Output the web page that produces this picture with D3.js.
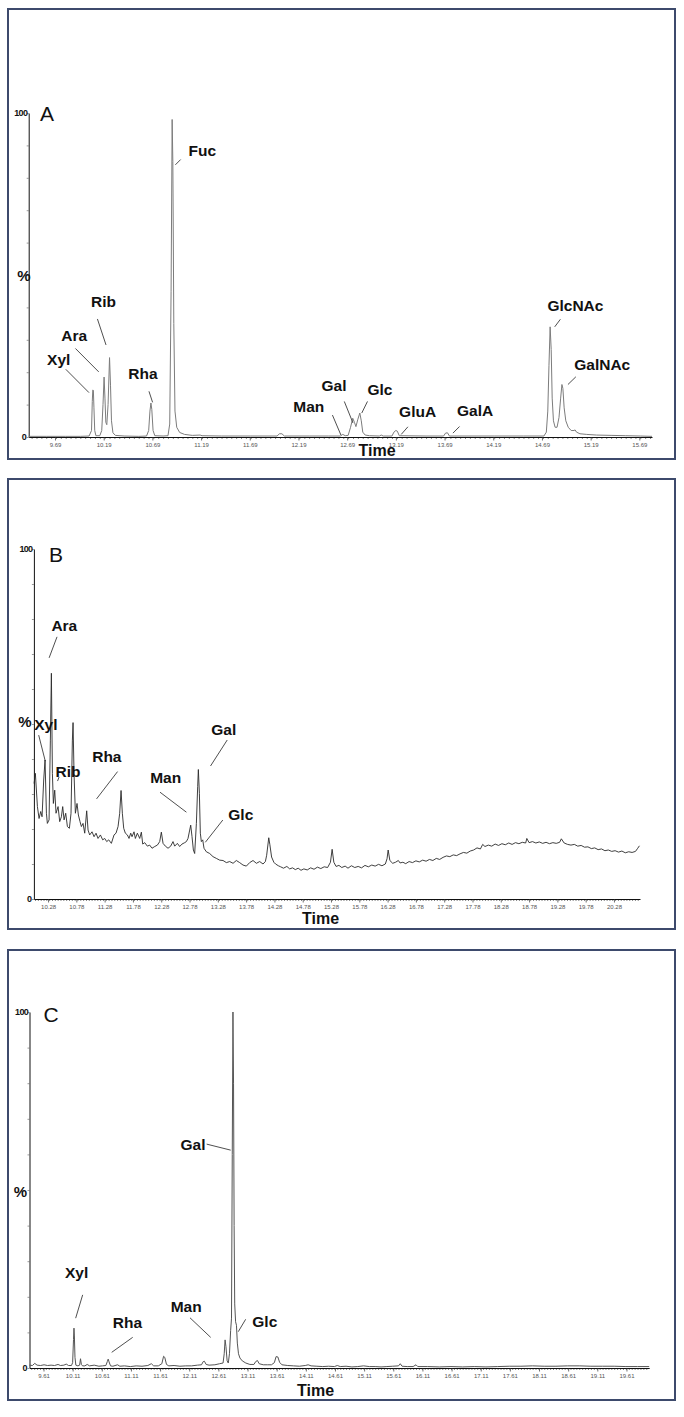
<!DOCTYPE html>
<html><head><meta charset="utf-8">
<script src="https://cdn.jsdelivr.net/npm/d3@7"></script>
<style>
body{margin:0;background:#fff}
svg{display:block}
text{font-family:"Liberation Sans",Arial,Helvetica,sans-serif}
</style>
</head><body>
<svg id="chart" width="684" height="1417"></svg>
<script>
// ---------------- DATA ----------------
// Panel A chromatogram: [time (min), relative intensity %]
const traceA = [
[9.42,0.2],[9.6,0.2],[9.8,0.2],[9.95,0.2],[10.04,0.3],[10.065,2],[10.073,11],[10.078,14.5],[10.084,14.4],[10.09,9],[10.098,2],[10.11,0.4],
[10.15,0.4],[10.17,2],[10.183,10],[10.194,18.5],[10.203,12],[10.212,4.5],[10.222,3.8],[10.235,10],[10.25,24.5],[10.26,16],[10.27,5],[10.285,1.3],[10.31,0.5],
[10.4,0.3],[10.55,0.2],[10.63,0.3],[10.652,2],[10.665,8],[10.675,10.5],[10.684,8.5],[10.697,2],[10.715,0.4],[10.8,0.3],[10.85,0.4],
[10.868,4],[10.882,45],[10.893,98],[10.9,85],[10.91,35],[10.922,8],[10.94,3],[10.97,1.4],[11.02,0.8],[11.1,0.5],[11.18,0.6],[11.2,0.4],
[11.4,0.3],[11.7,0.3],[11.97,0.3],[11.995,1.0],[12.02,1.0],[12.045,0.3],[12.3,0.3],[12.5,0.3],[12.62,0.3],[12.645,0.8],[12.67,0.4],
[12.7,0.5],[12.725,3],[12.747,5.8],[12.765,4.5],[12.78,3.2],[12.8,5.5],[12.82,7.4],[12.835,5],[12.85,1.5],[12.875,0.6],[12.92,0.4],
[13.02,0.3],[13.04,0.6],[13.06,0.3],[13.15,0.3],[13.17,1.5],[13.19,2.0],[13.205,1.8],[13.225,0.4],[13.5,0.3],[13.68,0.3],[13.7,1.2],[13.72,1.3],[13.74,0.3],
[14.2,0.3],[14.5,0.3],[14.71,0.3],[14.735,1.5],[14.75,8],[14.762,22],[14.774,34],[14.785,27],[14.795,12],[14.808,5],[14.825,3],[14.845,3],
[14.865,6],[14.882,12],[14.895,16.2],[14.905,15],[14.918,9],[14.935,5],[14.96,3],[14.99,2],[15.02,2.0],[15.03,2.2],[15.045,1.5],[15.08,1.0],
[15.15,0.8],[15.25,0.6],[15.4,0.5],[15.55,0.4],[15.7,0.3],[15.82,0.2]
];
const tickLabelsA = ["9.69","10.19","10.69","11.19","11.69","12.19","12.69","13.19","13.69","14.19","14.69","15.19","15.69"];
const peakNamesA  = ["Xyl","Ara","Rib","Rha","Fuc","Man","Gal","Glc","GluA","GalA","GlcNAc","GalNAc"];
const peakTimesA  = [10.039,10.139,10.214,10.692,10.926,12.626,12.75,12.84,13.245,13.776,14.821,14.957];
const peakValuesA = [13.7,20.1,28.4,10.7,84,0.6,4.3,7.4,0.8,1.2,34,16.2];

// Panel B chromatogram
const traceB = [
[10.033,33.0],[10.056,35.9],[10.092,26.4],[10.121,23.0],[10.150,25.0],[10.174,23.5],[10.203,34.0],[10.227,39.7],[10.251,24.5],[10.268,21.6],
[10.298,22.6],[10.321,45.4],[10.339,64.5],[10.357,35.9],[10.374,27.3],[10.398,31.1],[10.421,24.5],[10.457,26.4],[10.486,22.1],[10.516,23.5],
[10.539,26.4],[10.563,22.6],[10.592,24.5],[10.622,20.7],[10.657,20.2],[10.686,24.5],[10.710,45.4],[10.722,50.4],[10.739,35.9],[10.763,24.5],
[10.792,27.3],[10.816,24.0],[10.845,22.1],[10.869,20.7],[10.898,21.6],[10.928,18.8],[10.963,25.2],[10.987,19.7],[11.016,18.3],[11.057,19.2],
[11.093,17.8],[11.128,18.8],[11.163,17.3],[11.205,18.3],[11.246,16.9],[11.281,17.3],[11.317,16.4],[11.352,16.9],[11.399,15.9],[11.446,18.3],
[11.481,18.8],[11.517,20.7],[11.546,24.5],[11.570,31.0],[11.593,24.5],[11.617,20.2],[11.646,18.8],[11.682,18.3],[11.711,17.3],[11.741,18.8],
[11.764,17.8],[11.799,19.2],[11.823,17.3],[11.858,18.8],[11.900,17.3],[11.929,19.1],[11.953,15.7],[11.988,16.1],[12.035,15.1],[12.076,15.4],
[12.117,14.5],[12.165,15.0],[12.212,15.4],[12.253,16.4],[12.282,19.1],[12.312,15.9],[12.353,15.1],[12.400,14.5],[12.447,15.1],[12.488,16.4],
[12.518,15.1],[12.565,15.9],[12.606,15.0],[12.647,15.7],[12.695,16.1],[12.724,16.4],[12.753,17.3],[12.783,19.7],[12.801,21.1],[12.824,17.8],
[12.848,14.0],[12.871,13.0],[12.901,21.6],[12.924,32.1],[12.936,37.0],[12.954,30.2],[12.971,18.8],[12.989,16.4],[13.013,16.9],[13.036,14.5],
[13.077,13.5],[13.136,13.0],[13.195,12.1],[13.254,11.6],[13.313,11.1],[13.372,11.0],[13.431,10.4],[13.490,10.7],[13.549,10.2],[13.607,11.0],
[13.666,10.4],[13.725,9.7],[13.784,9.4],[13.843,10.4],[13.902,11.0],[13.961,10.2],[14.020,10.7],[14.079,10.0],[14.120,10.7],[14.143,12.5],
[14.18,17.5],[14.2,15.5],[14.23,12],[14.27,10.5],[14.3,10],[14.35,9.5],[14.39,9.2],[14.44,8.8],[14.5,9.3],[14.55,8.6],[14.6,8.9],[14.65,8.4],
[14.7,8.8],[14.75,8.2],[14.8,8.6],[14.86,8.3],[14.92,8.9],[14.98,8.5],[15.04,9.1],[15.1,8.7],[15.16,9.2],[15.22,9.0],[15.27,10.5],[15.3,14.2],
[15.33,10.5],[15.37,9.3],[15.42,9.6],[15.47,9.0],[15.53,9.4],[15.58,8.8],[15.64,9.5],[15.7,9.0],[15.76,9.3],[15.82,8.9],[15.88,9.6],[15.94,9.2],
[16.0,9.7],[16.06,9.4],[16.12,9.9],[16.18,9.5],[16.24,10.0],[16.27,11.5],[16.29,14],[16.32,11],[16.37,10.2],[16.42,10.5],[16.47,11.0],[16.5,10.3],
[16.55,10.5],[16.6,10.1],[16.66,10.7],[16.72,10.4],[16.78,10.9],[16.84,10.6],[16.9,11.1],[16.96,10.8],[17.02,11.3],[17.08,11.0],[17.14,11.6],
[17.2,11.3],[17.26,11.9],[17.32,12.3],[17.38,12.1],[17.44,12.6],[17.5,12.4],[17.56,12.9],[17.62,13.3],[17.68,13.1],[17.74,13.7],[17.8,14.0],
[17.86,14.6],[17.92,14.3],[17.96,15.6],[18.0,15.0],[18.06,15.4],[18.12,15.1],[18.18,15.7],[18.24,15.3],[18.3,15.8],[18.36,15.5],[18.42,16.0],
[18.48,15.6],[18.54,16.1],[18.6,15.8],[18.66,16.2],[18.72,16.0],[18.74,17.3],[18.78,16.1],[18.84,16.4],[18.9,16.0],[18.96,16.3],[19.02,15.9],
[19.08,16.2],[19.14,15.8],[19.2,16.1],[19.26,15.9],[19.32,16.2],[19.35,17.2],[19.4,16.0],[19.46,15.6],[19.52,15.4],[19.58,15.6],[19.64,15.1],
[19.7,15.3],[19.76,14.8],[19.82,14.9],[19.88,14.4],[19.94,14.6],[20.0,14.1],[20.06,14.3],[20.12,13.8],[20.18,14.0],[20.24,13.6],[20.3,13.8],
[20.36,13.4],[20.42,13.7],[20.48,13.2],[20.54,13.5],[20.6,13.3],[20.66,13.6],[20.7,14.5],[20.73,15.2]
];
const tickLabelsB = ["10.28","10.78","11.28","11.78","12.28","12.78","13.28","13.78","14.28","14.78","15.28","15.78","16.28","16.78","17.28","17.78","18.28","18.78","19.28","19.78","20.28"];
const peakNamesB  = ["Ara","Xyl","Rib","Rha","Man","Gal","Glc"];
const peakTimesB  = [10.299,10.231,10.448,11.137,12.725,13.151,13.059];
const peakValuesB = [68.9,39.4,33.7,28.6,24.8,38,16.2];

// Panel C chromatogram
const traceC = [
[9.37,0.8],[9.42,0.7],[9.46,1.3],[9.5,0.8],[9.56,0.7],[9.62,0.9],[9.68,0.7],[9.74,0.8],[9.8,0.7],[9.86,1.0],[9.9,0.7],[9.96,0.8],[10.0,1.1],
[10.04,0.7],[10.09,0.7],[10.11,1.5],[10.125,8],[10.133,11.2],[10.14,9],[10.15,3],[10.165,0.8],[10.2,0.6],[10.23,0.8],[10.245,2.6],[10.26,1.0],
[10.28,0.6],[10.32,0.6],[10.36,1.0],[10.4,0.6],[10.48,0.8],[10.56,0.5],[10.62,0.6],[10.68,0.7],[10.705,1.8],[10.72,2.5],[10.735,1.7],[10.76,0.6],
[10.8,0.5],[10.88,0.9],[10.92,0.5],[11.0,0.6],[11.1,0.4],[11.2,0.6],[11.3,0.5],[11.4,0.7],[11.46,1.2],[11.5,0.6],[11.58,0.6],[11.64,1.2],
[11.67,3.3],[11.69,3.0],[11.72,1.0],[11.76,0.6],[11.85,0.7],[11.95,0.5],[12.05,0.6],[12.15,0.6],[12.25,0.8],[12.32,0.9],[12.35,1.8],[12.37,1.9],
[12.4,1.0],[12.45,0.8],[12.55,0.9],[12.63,1.2],[12.69,1.4],[12.71,4],[12.725,7.9],[12.74,6],[12.76,2],[12.78,1.4],[12.80,4],[12.82,10.5],
[12.835,14],[12.848,60],[12.86,100],[12.87,80],[12.88,40],[12.89,18],[12.905,13],[12.92,12],[12.935,7],[12.955,4],[12.98,2.8],[13.02,2.0],
[13.08,1.4],[13.15,1.0],[13.22,1.0],[13.25,1.8],[13.28,2.1],[13.31,1.2],[13.38,0.9],[13.45,0.9],[13.52,0.9],[13.57,1.5],[13.6,3.2],[13.63,3.1],
[13.66,1.6],[13.7,0.9],[13.8,0.7],[13.9,0.6],[14.0,0.5],[14.1,0.7],[14.15,0.9],[14.2,0.6],[14.3,0.5],[14.4,0.4],[14.5,0.5],[14.6,0.4],[14.65,0.7],
[14.7,0.4],[14.8,0.5],[14.9,0.3],[15.0,0.4],[15.1,0.6],[15.2,0.4],[15.3,0.4],[15.4,0.3],[15.5,0.4],[15.6,0.5],[15.7,0.6],[15.73,1.2],[15.76,0.5],
[15.85,0.4],[15.95,0.4],[16.0,0.9],[16.03,0.4],[16.2,0.4],[16.4,0.3],[16.6,0.4],[16.8,0.3],[17.0,0.4],[17.2,0.3],[17.4,0.4],[17.6,0.5],[17.8,0.5],
[18.0,0.6],[18.2,0.5],[18.4,0.5],[18.6,0.6],[18.8,0.6],[19.0,0.5],[19.2,0.5],[19.4,0.5],[19.6,0.4],[19.8,0.4],[20.0,0.4]
];
const tickLabelsC = ["9.61","10.11","10.61","11.11","11.61","12.11","12.61","13.11","13.61","14.11","14.61","15.11","15.61","16.11","16.61","17.11","17.61","18.11","18.61","19.11","19.61"];
const peakNamesC  = ["Xyl","Rha","Man","Gal","Glc"];
const peakTimesC  = [10.162,10.78,12.478,12.821,12.951];
const peakValuesC = [14,4.4,8.6,61.2,10.2];

const yTickLabels = ["100","0"];
const panelLetters = ["A","B","C"];

// ---------------- LAYOUT (pixel offsets of callouts) ----------------
const calloutA = [
  {lead:[-23.2,-23.3], text:[-30.3,-33.3]},
  {lead:[-23.3,-23.4], text:[-24.6,-36.7]},
  {lead:[-8.6,-26],    text:[-2.5,-43.3]},
  {lead:[-3.6,-11],    text:[-9.6,-28.7]},
  {lead:[5.3,-5.3],    text:[26.9,-14]},
  {lead:[-8.5,-20],    text:[-32.2,-28.3]},
  {lead:[-8.7,-21.6],  text:[-19,-37.6]},
  {lead:[5.7,-11.6],   text:[18.2,-23.3]},
  {lead:[6.7,-7.6],    text:[16.4,-22.6]},
  {lead:[6.6,-6.6],    text:[22.2,-22.6]},
  {lead:[5.7,-7.6],    text:[20.7,-21.6]},
  {lead:[7.9,-7.7],    text:[34.3,-20]}
];
const calloutB = [
  {lead:[7.9,-21],    text:[15.2,-32.2]},
  {lead:[-6.6,-26],   text:[0.6,-36.5]},
  {lead:[1.5,-4],     text:[10.5,-9]},
  {lead:[21,-27.3],   text:[10.3,-42.3]},
  {lead:[-26.4,-20],  text:[-20.7,-35]},
  {lead:[16.7,-26],   text:[13.2,-36]},
  {lead:[17.5,-22.3], text:[35.5,-27.3]}
];
const calloutC = [
  {lead:[7,-23.3],    text:[1,-45.6]},
  {lead:[21,-15],     text:[15.8,-29.6]},
  {lead:[-20.7,-19.6],text:[-24.5,-31.3]},
  {lead:[-24,-6],     text:[-37.7,-6]},
  {lead:[7.4,-12.4],  text:[26.5,-9.7]}
];

function tickVals(labels){ return labels.map(Number); }

const panels = [
  {letter:panelLetters[0], frameTop:9, xDomain:[9.42,15.82], xRange:[28.7,652], yRange:[437,113],
   trace:traceA, tickLabels:tickLabelsA, names:peakNamesA, times:peakTimesA, values:peakValuesA, callout:calloutA,
   color:"#7c7c7c", width:1.0, letterPos:[40,121], pct:[24,276], time:[377,456]},
  {letter:panelLetters[1], frameTop:479, xDomain:[10.03,20.74], xRange:[33.9,640], yRange:[899,549],
   trace:traceB, tickLabels:tickLabelsB, names:peakNamesB, times:peakTimesB, values:peakValuesB, callout:calloutB,
   color:"#2a2a2a", width:0.9, letterPos:[49,561.5], pct:[25,722], time:[320.6,924]},
  {letter:panelLetters[2], frameTop:950, xDomain:[9.37,20.0], xRange:[29.5,649.2], yRange:[1368,1012],
   trace:traceC, tickLabels:tickLabelsC, names:peakNamesC, times:peakTimesC, values:peakValuesC, callout:calloutC,
   color:"#555555", width:1.0, letterPos:[43.5,1021.5], pct:[20.5,1192], time:[315.5,1395.5]}
];

const svg = d3.select("#chart");
svg.append("rect").attr("width",684).attr("height",1417).attr("fill","#fff");

panels.forEach(p => {
  const g = svg.append("g");
  const x = d3.scaleLinear().domain(p.xDomain).range(p.xRange);
  const y = d3.scaleLinear().domain([0,100]).range(p.yRange);

  // frame
  g.append("rect").attr("x",8).attr("y",p.frameTop).attr("width",667).attr("height",450)
    .attr("fill","none").attr("stroke","#3d4a6c").attr("stroke-width",2);

  // minor x ticks
  const start = Math.ceil(p.xDomain[0]*20)/20;
  const minor = d3.range(start, p.xDomain[1], 0.05);
  const minorAxis = d3.axisBottom(x).tickValues(minor).tickSize(2).tickSizeOuter(0).tickFormat("");
  const gm = g.append("g").attr("transform",`translate(0,${p.yRange[0]})`).call(minorAxis);
  gm.selectAll("line").attr("stroke","#333").attr("stroke-width",0.6);
  gm.select(".domain").remove();

  // major x axis
  const tv = tickVals(p.tickLabels);
  const xAxis = d3.axisBottom(x).tickValues(tv).tickSize(3.5).tickSizeOuter(0)
      .tickFormat((d,i)=>p.tickLabels[i]);
  const gx = g.append("g").attr("transform",`translate(0,${p.yRange[0]})`).call(xAxis);
  gx.select(".domain").attr("stroke","#111").attr("stroke-width",1);
  gx.selectAll("line").attr("stroke","#333").attr("stroke-width",0.7);
  gx.selectAll("text").attr("font-size",6).attr("fill","#555").attr("y",5.5).attr("dy","0.71em")
    .attr("font-family","'Liberation Sans',Arial,sans-serif");

  // y axis
  const yAxis = d3.axisLeft(y).tickValues(d3.range(0,101,10)).tickSize(2).tickSizeOuter(0).tickFormat("");
  const gy = g.append("g").attr("transform",`translate(${p.xRange[0]},0)`).call(yAxis);
  gy.select(".domain").attr("stroke","#111").attr("stroke-width",1);
  gy.selectAll("line").attr("stroke","#555").attr("stroke-width",0.6);

  g.append("text").attr("x",p.xRange[0]-1.5).attr("y",y(100)).attr("dy","0.35em")
    .attr("text-anchor","end").attr("font-size",9).attr("font-weight","bold").attr("letter-spacing",-0.7)
    .attr("fill","#111").text(yTickLabels[0]);
  g.append("text").attr("x",p.xRange[0]-2).attr("y",y(0)).attr("dy","0.35em")
    .attr("text-anchor","end").attr("font-size",9).attr("font-weight","bold")
    .attr("fill","#111").text(yTickLabels[1]);

  // trace
  const line = d3.line().x(d=>x(d[0])).y(d=>y(d[1]));
  g.append("path").datum(p.trace).attr("d",line).attr("fill","none")
    .attr("stroke",p.color).attr("stroke-width",p.width).attr("stroke-linejoin","round");

  // panel letter
  g.append("text").attr("x",p.letterPos[0]).attr("y",p.letterPos[1]).attr("font-size",21)
    .attr("fill","#111").text(p.letter);

  // % label
  g.append("text").attr("x",p.pct[0]).attr("y",p.pct[1]).attr("dy","0.35em").attr("text-anchor","middle")
    .attr("font-size",15).attr("font-weight","bold").attr("fill","#111").text("%");

  // Time label
  g.append("text").attr("x",p.time[0]).attr("y",p.time[1]).attr("text-anchor","middle")
    .attr("font-size",16).attr("font-weight","bold").attr("fill","#111").text("Time");

  // callouts
  p.names.forEach((name,i) => {
    const tx = x(p.times[i]), ty = y(p.values[i]);
    const c = p.callout[i];
    g.append("line").attr("x1",tx+c.lead[0]).attr("y1",ty+c.lead[1]).attr("x2",tx).attr("y2",ty)
      .attr("stroke","#222").attr("stroke-width",0.8);
    g.append("text").attr("x",tx+c.text[0]).attr("y",ty+c.text[1]).attr("dy","0.35em")
      .attr("text-anchor","middle").attr("font-size",15.5).attr("font-weight","bold").attr("fill","#111")
      .text(name);
  });
});
</script>
</body></html>
